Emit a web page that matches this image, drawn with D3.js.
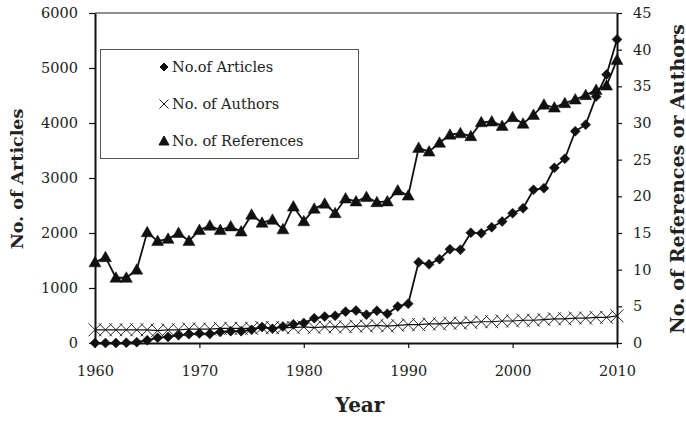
<!DOCTYPE html>
<html>
<head>
<meta charset="utf-8">
<style>
	body { margin: 0; background: #fff; }
	text { font-family: "DejaVu Serif", serif; fill: #222; }
</style>
</head>
<body>
<div id="chart"></div>

<script src="https://d3js.org/d3.v7.min.js"></script>
<script>

	var w = 686, h = 421;

	// data
	var years = d3.range(1960, 2011);
	var articles = [0, 0, 0, 5, 15, 50, 95, 110, 140, 160,
		175, 165, 200, 215, 215, 240, 290, 260, 300, 340,
		365, 450, 480, 495, 570, 590, 515, 585, 530, 665,
		715, 1470, 1430, 1525, 1705, 1695, 2005, 1995, 2105, 2210,
		2360, 2450, 2785, 2815, 3185, 3350, 3850, 3970, 4480, 4880,
		5520];
	var authors = [1.8, 1.8, 1.8, 1.8, 1.8, 1.8, 1.7, 1.8, 1.8, 1.9,
		1.9, 1.9, 2.0, 2.0, 2.0, 2.0, 2.1, 2.1, 2.1, 2.1,
		2.2, 2.1, 2.2, 2.2, 2.2, 2.3, 2.3, 2.4, 2.3, 2.4,
		2.5, 2.5, 2.6, 2.6, 2.7, 2.7, 2.8, 2.9, 2.9, 3.0,
		3.0, 3.1, 3.1, 3.2, 3.3, 3.3, 3.4, 3.4, 3.5, 3.5,
		3.7];
	var references = [11.0, 11.7, 8.9, 8.9, 10.0, 15.1, 13.9, 14.2, 15.0, 13.9,
		15.4, 16.0, 15.4, 15.9, 15.2, 17.5, 16.4, 16.8, 15.5, 18.6,
		16.6, 18.3, 19.0, 17.7, 19.7, 19.3, 19.9, 19.2, 19.3, 20.8,
		20.1, 26.6, 26.1, 27.3, 28.4, 28.6, 28.2, 30.1, 30.2, 29.6,
		30.8, 29.9, 31.1, 32.5, 32.1, 32.7, 33.2, 33.8, 34.5, 35.1,
		38.6];
	var xTicks = [1960, 1970, 1980, 1990, 2000, 2010];
	var leftTicks = [0, 1000, 2000, 3000, 4000, 5000, 6000];
	var rightTicks = [0, 5, 10, 15, 20, 25, 30, 35, 40, 45];
	var legendLabels = ["No.of Articles", "No. of Authors", "No. of References"];

	var pLeft = 95, pRight = 617, pTop = 13, pBottom = 343;

	var svg = d3.select("#chart")
				.append("svg")
				.attr("width", w)
				.attr("height", h);

	// scales
	var x = d3.scaleLinear().domain([1960, 2010]).range([pLeft, pRight]);
	var yL = d3.scaleLinear().domain([0, 6000]).range([pBottom, pTop]);
	var yR = d3.scaleLinear().domain([0, 45]).range([pBottom, pTop]);

	// marker shapes
	var diamond = "M0,-5L5,0L0,5L-5,0Z",
		triangle = "M0,-6L6,4.5L-6,4.5Z",
		cross = "M-6.5,-6.5L6.5,6.5M-6.5,6.5L6.5,-6.5";

	// top border
	svg.append("line")
	   .attr("x1", pLeft).attr("x2", pRight)
	   .attr("y1", pTop).attr("y2", pTop)
	   .attr("stroke", "#222").attr("stroke-width", 1.2);

	// axes
	function style(g) {
		g.select(".domain").attr("stroke", "#111").attr("stroke-width", 2);
		g.selectAll(".tick line").attr("stroke", "#111").attr("stroke-width", 1.2);
		g.selectAll(".tick text").attr("font-family", "DejaVu Serif").attr("font-size", 14.5).attr("fill", "#222");
	}

	svg.append("g")
	   .attr("transform", "translate(0," + pBottom + ")")
	   .call(d3.axisBottom(x).tickValues(xTicks).tickFormat(d3.format("d")).tickSize(5).tickSizeOuter(0).tickPadding(18))
	   .call(style);

	svg.append("g")
	   .attr("transform", "translate(" + pLeft + ",0)")
	   .call(d3.axisLeft(yL).tickValues(leftTicks).tickFormat(d3.format("d")).tickSize(6).tickSizeOuter(0).tickPadding(11))
	   .call(style);

	svg.append("g")
	   .attr("transform", "translate(" + pRight + ",0)")
	   .call(d3.axisRight(yR).tickValues(rightTicks).tickSize(5).tickSizeOuter(0).tickPadding(11))
	   .call(style);

	// axis titles
	svg.append("text")
	   .attr("transform", "translate(23,179) rotate(-90)")
	   .attr("text-anchor", "middle")
	   .attr("font-weight", "bold")
	   .attr("font-size", 17.5)
	   .text("No. of Articles");

	svg.append("text")
	   .attr("transform", "translate(684,179) rotate(-90)")
	   .attr("text-anchor", "middle")
	   .attr("font-weight", "bold")
	   .attr("font-size", 19)
	   .text("No. of References or Authors");

	svg.append("text")
	   .attr("x", 360).attr("y", 412)
	   .attr("text-anchor", "middle")
	   .attr("font-weight", "bold")
	   .attr("font-size", 20)
	   .text("Year");

	// series
	function series(values, scale, shape, lineWidth, filled) {
		var pts = years.map(function(yr, i) { return [x(yr), scale(values[i])]; });
		svg.append("path")
		   .attr("d", d3.line()(pts))
		   .attr("fill", "none")
		   .attr("stroke", "#111")
		   .attr("stroke-width", lineWidth);
		svg.append("g").selectAll("path")
		   .data(pts)
		   .enter()
		   .append("path")
		   .attr("transform", function(d) { return "translate(" + d[0] + "," + d[1] + ")"; })
		   .attr("d", shape)
		   .attr("fill", filled ? "#111" : "none")
		   .attr("stroke", "#111")
		   .attr("stroke-width", filled ? 0.5 : 0.9);
	}

	series(articles, yL, diamond, 1.8, true);
	series(authors, yR, cross, 1.2, false);
	series(references, yR, triangle, 1.8, true);

	// legend
	svg.append("rect")
	   .attr("x", 100.5).attr("y", 49.5)
	   .attr("width", 258).attr("height", 109)
	   .attr("fill", "#fff")
	   .attr("stroke", "#555")
	   .attr("stroke-width", 1);

	var legendShapes = [
		{d: "M0,-4L4,0L0,4L-4,0Z", fill: true},
		{d: "M-4.5,-4.5L4.5,4.5M-4.5,4.5L4.5,-4.5", fill: false},
		{d: "M0,-5L5,4L-5,4Z", fill: true}
	];
	var rowY = [67, 104, 141];

	legendLabels.forEach(function(label, i) {
		svg.append("path")
		   .attr("transform", "translate(164," + rowY[i] + ")")
		   .attr("d", legendShapes[i].d)
		   .attr("fill", legendShapes[i].fill ? "#111" : "none")
		   .attr("stroke", "#111")
		   .attr("stroke-width", 1);
		svg.append("text")
		   .attr("x", 172).attr("y", rowY[i])
		   .attr("dy", "0.35em")
		   .attr("font-size", 14.5)
		   .text(label);
	});

</script>
</body>
</html>
